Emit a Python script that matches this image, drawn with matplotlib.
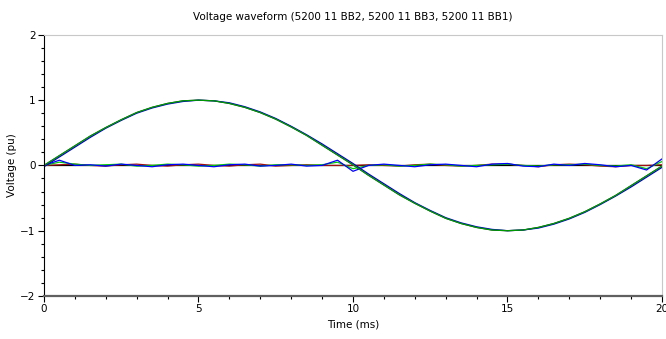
import numpy as np
import matplotlib.pyplot as plt
from matplotlib.ticker import MultipleLocator

# time axis (ms), sampled every 0.5 ms
time_ms = [0.0, 0.5, 1.0, 1.5, 2.0, 2.5, 3.0, 3.5, 4.0, 4.5,
           5.0, 5.5, 6.0, 6.5, 7.0, 7.5, 8.0, 8.5, 9.0, 9.5,
           10.0, 10.5, 11.0, 11.5, 12.0, 12.5, 13.0, 13.5, 14.0, 14.5,
           15.0, 15.5, 16.0, 16.5, 17.0, 17.5, 18.0, 18.5, 19.0, 19.5, 20.0]

# fundamental-looking traces (pu)
bb2_main = [-0.02, 0.13, 0.28, 0.43, 0.57, 0.69, 0.80, 0.88, 0.94, 0.98,
            1.00, 0.99, 0.96, 0.90, 0.82, 0.72, 0.60, 0.47, 0.33, 0.18,
            0.03, -0.13, -0.28, -0.43, -0.57, -0.69, -0.80, -0.88, -0.94, -0.98,
            -1.00, -0.99, -0.96, -0.90, -0.82, -0.72, -0.60, -0.47, -0.33, -0.18, -0.03]
bb3_main = [0.00, 0.15, 0.30, 0.45, 0.58, 0.70, 0.81, 0.89, 0.95, 0.99,
            1.00, 0.99, 0.95, 0.89, 0.81, 0.71, 0.59, 0.46, 0.31, 0.16,
            0.01, -0.15, -0.30, -0.45, -0.58, -0.70, -0.81, -0.89, -0.95, -0.99,
            -1.00, -0.99, -0.95, -0.89, -0.81, -0.71, -0.59, -0.46, -0.31, -0.16, -0.01]
bb1_main = [0.00, 0.15, 0.30, 0.45, 0.58, 0.70, 0.81, 0.89, 0.95, 0.99,
            1.00, 0.99, 0.95, 0.89, 0.81, 0.71, 0.59, 0.46, 0.31, 0.16,
            0.01, -0.15, -0.30, -0.45, -0.58, -0.70, -0.81, -0.89, -0.95, -0.99,
            -1.00, -0.99, -0.95, -0.89, -0.81, -0.71, -0.59, -0.46, -0.31, -0.16, -0.01]

# small residual traces around zero (pu)
bb2_res = [0.00, 0.08, 0.00, 0.01, -0.01, 0.02, 0.00, -0.02, 0.01, 0.02,
           0.00, -0.02, 0.01, 0.02, -0.01, 0.00, 0.02, -0.01, 0.00, 0.08,
           -0.09, 0.00, 0.02, 0.00, -0.02, 0.01, 0.02, 0.00, -0.02, 0.02,
           0.03, -0.01, -0.02, 0.02, 0.00, 0.03, 0.01, -0.02, 0.00, -0.07, 0.10]
bb3_res = [0.00, 0.05, 0.02, 0.00, 0.01, 0.02, -0.01, 0.00, 0.02, 0.01,
           -0.01, 0.00, 0.02, 0.01, -0.01, 0.01, 0.01, 0.00, 0.01, 0.05,
           -0.05, 0.00, 0.01, -0.01, 0.00, 0.02, 0.01, -0.01, 0.00, 0.01,
           0.02, 0.00, -0.01, 0.01, 0.01, 0.02, 0.00, -0.01, 0.01, -0.05, 0.06]
bb1_res = [0.00, 0.01, 0.02, 0.00, -0.01, 0.01, 0.02, 0.00, -0.01, 0.01,
           0.02, 0.00, -0.01, 0.01, 0.02, -0.01, 0.00, 0.01, 0.00, 0.00,
           0.00, 0.01, 0.00, -0.01, 0.01, 0.02, 0.00, -0.01, 0.00, 0.02,
           0.02, 0.00, -0.02, 0.01, 0.02, 0.01, -0.01, -0.02, 0.00, 0.00, 0.01]
ref_zero = [0.0] * len(time_ms)

fig = plt.figure(figsize=(6.66, 3.39), dpi=100)
ax = fig.add_axes([0.066, 0.127, 0.928, 0.77])

lw = 0.9
ax.plot(time_ms, ref_zero, color='black', lw=lw)
ax.plot(time_ms, bb1_res, color='#a01010', lw=lw)
ax.plot(time_ms, bb3_res, color='#00cc00', lw=lw)
ax.plot(time_ms, bb2_res, color='#0000ff', lw=lw)
ax.plot(time_ms, bb1_main, color='#303030', lw=lw)
ax.plot(time_ms, bb2_main, color='#0000cc', lw=lw)
ax.plot(time_ms, bb3_main, color='#009900', lw=lw)

ax.set_xlim(0, 20)
ax.set_ylim(-2, 2)
ax.xaxis.set_major_locator(MultipleLocator(5))
ax.xaxis.set_minor_locator(MultipleLocator(1))
ax.yaxis.set_major_locator(MultipleLocator(1))
ax.yaxis.set_minor_locator(MultipleLocator(0.2))

for s in ['top', 'right']:
    ax.spines[s].set_color('#c8c8c8')
ax.spines['left'].set_color('black')
ax.spines['bottom'].set_color('#606060')
ax.spines['bottom'].set_linewidth(1.6)

ax.tick_params(which='major', length=4, width=0.8, labelsize=7.5, pad=2)
ax.tick_params(which='minor', length=2.5, width=0.8)

ax.set_title('Voltage waveform (5200 11 BB2, 5200 11 BB3, 5200 11 BB1)', fontsize=7.5, pad=11)
ax.set_xlabel('Time (ms)', fontsize=7.5, labelpad=4)
ax.set_ylabel('Voltage (pu)', fontsize=7.5, labelpad=2)

fig.savefig('out.png', dpi=100)
